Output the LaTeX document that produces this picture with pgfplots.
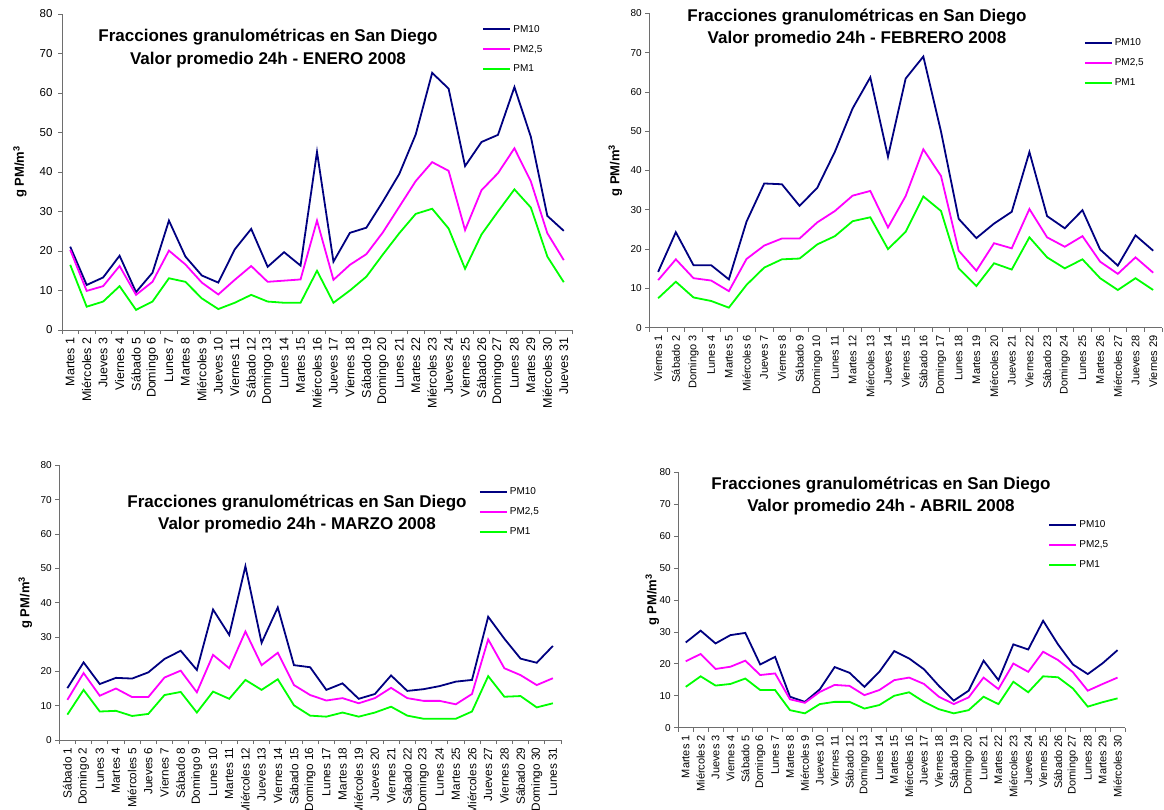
\documentclass[border=0pt]{standalone}
\usepackage{pgfplots}
\pgfplotsset{compat=1.18}
\usepackage{pgfplotstable}
\usepackage{fontspec}
\setmainfont{Liberation Sans}

\definecolor{pmten}{RGB}{0,0,128}
\definecolor{pmtwo}{RGB}{255,0,255}
\definecolor{pmone}{RGB}{0,255,0}
\definecolor{axgray}{RGB}{110,110,110}

\pgfplotstableread{
d pmten pmtwo pmone
1 21.1 20.3 16.5
2 11.4 9.9 5.9
3 13.3 11.1 7.2
4 18.8 16.2 11.1
5 9.6 8.9 5.1
6 14.5 12.2 7.2
7 27.7 20.1 13.1
8 18.6 16.6 12.2
9 13.8 12.0 8.0
10 12.0 9.0 5.3
11 20.4 12.7 6.9
12 25.6 16.2 8.9
13 16.0 12.2 7.2
14 19.7 12.5 6.9
15 16.3 12.8 6.9
16 45.1 27.7 15.0
17 17.3 12.7 6.9
18 24.6 16.5 10.0
19 25.9 19.2 13.5
20 32.5 24.7 19.1
21 39.5 31.2 24.5
22 49.5 37.7 29.4
23 65.1 42.5 30.7
24 61.1 40.3 25.7
25 41.5 25.3 15.5
26 47.6 35.4 24.2
27 49.4 39.7 30.0
28 61.5 46.0 35.6
29 48.9 37.6 31.0
30 28.9 24.5 18.6
31 25.1 17.7 12.1
}\enero

\pgfplotstableread{
d pmten pmtwo pmone
1 14.2 12.1 7.5
2 24.3 17.4 11.7
3 15.9 12.6 7.7
4 15.9 12.0 6.8
5 12.3 9.3 5.1
6 27.0 17.5 10.9
7 36.7 20.9 15.3
8 36.5 22.7 17.4
9 31.0 22.7 17.6
10 35.6 26.8 21.2
11 44.8 29.7 23.3
12 55.8 33.6 27.1
13 63.7 34.8 28.1
14 43.5 25.5 20.0
15 63.4 33.5 24.4
16 69.0 45.4 33.4
17 49.9 38.6 29.7
18 27.7 19.6 15.1
19 22.8 14.5 10.6
20 26.5 21.5 16.4
21 29.5 20.2 14.8
22 44.7 30.2 23.0
23 28.4 23.0 17.9
24 25.3 20.6 15.1
25 29.9 23.3 17.4
26 19.9 16.8 12.6
27 15.8 13.7 9.6
28 23.5 17.9 12.6
29 19.6 14.0 9.6
}\febrero

\pgfplotstableread{
d pmten pmtwo pmone
1 15.1 11.7 7.4
2 22.6 19.5 14.6
3 16.3 12.9 8.3
4 18.1 15.0 8.5
5 17.9 12.5 7.0
6 19.7 12.5 7.6
7 23.6 18.2 13.1
8 26.0 20.2 14.0
9 20.4 13.9 8.0
10 38.0 24.8 14.1
11 30.6 20.9 12.0
12 50.6 31.6 17.5
13 28.3 21.8 14.6
14 38.6 25.4 17.7
15 21.8 16.0 10.1
16 21.2 13.1 7.1
17 14.6 11.5 6.8
18 16.5 12.2 8.0
19 12.0 10.7 6.8
20 13.4 12.2 8.0
21 18.8 15.2 9.7
22 14.3 12.2 7.1
23 14.8 11.4 6.2
24 15.7 11.4 6.2
25 17.0 10.4 6.2
26 17.5 13.4 8.3
27 35.9 29.3 18.6
28 29.5 20.9 12.6
29 23.7 18.9 12.8
30 22.5 16.0 9.5
31 27.4 18.0 10.7
}\marzo

\pgfplotstableread{
d pmten pmtwo pmone
1 26.7 20.8 12.8
2 30.4 23.1 16.1
3 26.4 18.4 13.2
4 29.0 19.1 13.7
5 29.7 21.0 15.4
6 19.8 16.5 11.8
7 22.2 17.0 11.8
8 9.7 8.9 5.5
9 8.1 7.8 4.5
10 12.0 11.2 7.4
11 19.0 13.4 8.1
12 17.2 13.1 8.1
13 12.8 10.2 6.0
14 17.5 11.8 7.1
15 24.0 14.9 10.0
16 21.7 15.7 11.1
17 18.3 13.7 8.1
18 13.1 9.7 5.8
19 8.5 7.4 4.5
20 11.6 9.5 5.5
21 21.0 15.7 9.7
22 14.9 12.1 7.4
23 26.1 20.1 14.4
24 24.5 17.5 11.1
25 33.5 23.8 16.1
26 26.1 21.2 15.8
27 19.8 17.4 12.3
28 16.8 11.6 6.6
29 20.2 13.7 8.0
30 24.3 15.7 9.2
}\abril

\pgfplotsset{
  panel/.style={
    scale only axis,
    axis x line*=bottom, axis y line*=left,
    axis line style={draw=axgray, line width=0.8pt, -},
    tick align=outside,
    major tick length=4pt, minor tick length=4pt,
    ymin=0, ymax=80, ytick={0,10,...,80},
    ytick style={draw=axgray, line width=0.8pt},
    xtick style={draw=none},
    minor x tick style={draw=axgray, line width=0.8pt},
    xmin=0.5,
    /pgf/number format/assume math mode=true,
    xticklabel style={rotate=90, anchor=east},
    ylabel={g PM/m\textsuperscript{3}},
    ylabel style={rotate=0, anchor=center, font=\fontsize{13}{13}\selectfont\bfseries},
    legend image code/.code={\draw[##1, line width=2pt] (0pt,0pt) -- (27pt,0pt);},
    legend style={draw=none, fill=none, inner sep=0pt, row sep=7.5pt,
      font=\fontsize{10}{12}\selectfont, anchor=north west,
      cells={anchor=west}, nodes={inner sep=2pt}},
    every axis plot/.append style={line width=1.8pt, mark=none},
  },
}

\begin{document}
\begin{tikzpicture}
\useasboundingbox (0pt,0pt) rectangle (1164pt,-809pt);

% ENERO
\begin{axis}[panel,
  at={(62pt,-330pt)}, anchor=south west,
  width=510pt, height=316pt,
  xmax=31.5, xtick={1,...,31},
  minor xtick={0.5,1.5,...,31.5},
  xticklabels={Martes 1,Miércoles 2,Jueves 3,Viernes 4,Sábado 5,Domingo 6,Lunes 7,Martes 8,Miércoles 9,Jueves 10,Viernes 11,Sábado 12,Domingo 13,Lunes 14,Martes 15,Miércoles 16,Jueves 17,Viernes 18,Sábado 19,Domingo 20,Lunes 21,Martes 22,Miércoles 23,Jueves 24,Viernes 25,Sábado 26,Domingo 27,Lunes 28,Martes 29,Miércoles 30,Jueves 31},
  xticklabel style={font=\fontsize{12.5}{13}\selectfont},
  yticklabel style={font=\fontsize{11.5}{12}\selectfont, xshift=-2pt},
  ylabel style={at={(axis description cs:-0.0824,0.5)}},
  legend style={at={(axis description cs:0.824,0.972)}},
]
\addplot[pmten] table[x=d,y=pmten] {\enero};
\addplot[pmtwo] table[x=d,y=pmtwo] {\enero};
\addplot[pmone] table[x=d,y=pmone] {\enero};
\legend{PM10,{PM2{,}5},PM1}
\end{axis}

% FEBRERO
\begin{axis}[panel,
  at={(649.3pt,-327.7pt)}, anchor=south west,
  width=512.7pt, height=314.4pt,
  xmax=29.5, xtick={1,...,29},
  minor xtick={0.5,1.5,...,29.5},
  xticklabels={Viernes 1,Sábado 2,Domingo 3,Lunes 4,Martes 5,Miércoles 6,Jueves 7,Viernes 8,Sábado 9,Domingo 10,Lunes 11,Martes 12,Miércoles 13,Jueves 14,Viernes 15,Sábado 16,Domingo 17,Lunes 18,Martes 19,Miércoles 20,Jueves 21,Viernes 22,Sábado 23,Domingo 24,Lunes 25,Martes 26,Miércoles 27,Jueves 28,Viernes 29},
  xticklabel style={font=\fontsize{11}{12}\selectfont},
  yticklabel style={font=\fontsize{10}{11}\selectfont},
  ylabel style={at={(axis description cs:-0.0663,0.5)}},
  legend style={at={(axis description cs:0.847,0.926)}},
]
\addplot[pmten] table[x=d,y=pmten] {\febrero};
\addplot[pmtwo] table[x=d,y=pmtwo] {\febrero};
\addplot[pmone] table[x=d,y=pmone] {\febrero};
\legend{PM10,{PM2{,}5},PM1}
\end{axis}

% MARZO
\begin{axis}[panel,
  at={(59.3pt,-740pt)}, anchor=south west,
  width=501.7pt, height=274.7pt,
  xmax=31.5, xtick={1,...,31},
  minor xtick={0.5,1.5,...,31.5},
  xticklabels={Sábado 1,Domingo 2,Lunes 3,Martes 4,Miércoles 5,Jueves 6,Viernes 7,Sábado 8,Domingo 9,Lunes 10,Martes 11,Miércoles 12,Jueves 13,Viernes 14,Sábado 15,Domingo 16,Lunes 17,Martes 18,Miércoles 19,Jueves 20,Viernes 21,Sábado 22,Domingo 23,Lunes 24,Martes 25,Miércoles 26,Jueves 27,Viernes 28,Sábado 29,Domingo 30,Lunes 31},
  xticklabel style={font=\fontsize{11.8}{12}\selectfont},
  yticklabel style={font=\fontsize{10}{11}\selectfont},
  ylabel style={at={(axis description cs:-0.0678,0.5)}},
  legend style={at={(axis description cs:0.836,0.927)}},
]
\addplot[pmten] table[x=d,y=pmten] {\marzo};
\addplot[pmtwo] table[x=d,y=pmtwo] {\marzo};
\addplot[pmone] table[x=d,y=pmone] {\marzo};
\legend{PM10,{PM2{,}5},PM1}
\end{axis}

% ABRIL
\begin{axis}[panel,
  at={(678.3pt,-727.7pt)}, anchor=south west,
  width=446.7pt, height=255.4pt,
  xmax=30.5, xtick={1,...,30},
  minor xtick={0.5,1.5,...,30.5},
  xticklabels={Martes 1,Miércoles 2,Jueves 3,Viernes 4,Sábado 5,Domingo 6,Lunes 7,Martes 8,Miércoles 9,Jueves 10,Viernes 11,Sábado 12,Domingo 13,Lunes 14,Martes 15,Miércoles 16,Jueves 17,Viernes 18,Sábado 19,Domingo 20,Lunes 21,Martes 22,Miércoles 23,Jueves 24,Viernes 25,Sábado 26,Domingo 27,Lunes 28,Martes 29,Miércoles 30},
  xticklabel style={font=\fontsize{11}{12}\selectfont},
  yticklabel style={font=\fontsize{10}{11}\selectfont},
  ylabel style={at={(axis description cs:-0.0582,0.5)}},
  legend style={at={(axis description cs:0.828,0.82)}},
]
\addplot[pmten] table[x=d,y=pmten] {\abril};
\addplot[pmtwo] table[x=d,y=pmtwo] {\abril};
\addplot[pmone] table[x=d,y=pmone] {\abril};
\legend{PM10,{PM2{,}5},PM1}
\end{axis}

% Titles
\node[align=center, font=\fontsize{17}{22.5}\selectfont\bfseries] at (268pt,-48.5pt)
  {Fracciones granulométricas en San Diego\\Valor promedio 24h - ENERO 2008};
\node[align=center, font=\fontsize{17}{22.5}\selectfont\bfseries] at (857pt,-28pt)
  {Fracciones granulométricas en San Diego\\Valor promedio 24h - FEBRERO 2008};
\node[align=center, font=\fontsize{17}{22.5}\selectfont\bfseries] at (297pt,-514pt)
  {Fracciones granulométricas en San Diego\\Valor promedio 24h - MARZO 2008};
\node[align=center, font=\fontsize{17}{22.5}\selectfont\bfseries] at (881pt,-496pt)
  {Fracciones granulométricas en San Diego\\Valor promedio 24h - ABRIL 2008};
\end{tikzpicture}
\end{document}
